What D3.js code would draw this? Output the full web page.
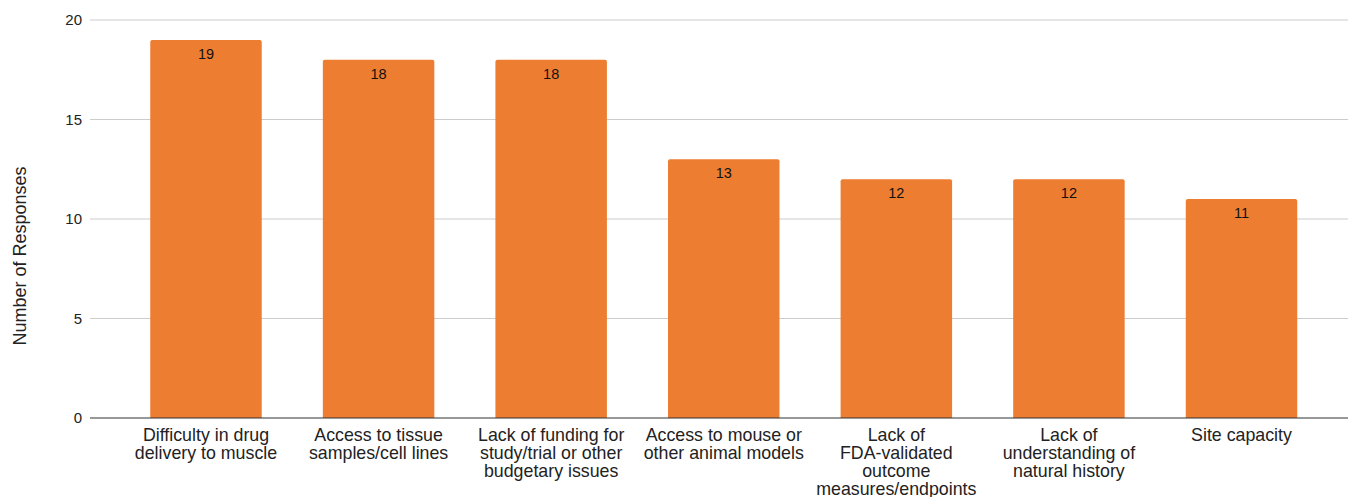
<!DOCTYPE html>
<html>
<head>
<meta charset="utf-8">
<script src="https://cdn.jsdelivr.net/npm/d3@7"></script>
<style>
  html, body { margin: 0; padding: 0; background: #fff; }
  svg { display: block; font-family: "Liberation Sans", Arial, sans-serif; }
</style>
</head>
<body>
<svg id="chart" width="1348" height="497"></svg>
<script>
// Reported barriers (line breaks mark where each axis label wraps)
const categories = [
  "Difficulty in drug\ndelivery to muscle",
  "Access to tissue\nsamples/cell lines",
  "Lack of funding for\nstudy/trial or other\nbudgetary issues",
  "Access to mouse or\nother animal models",
  "Lack of\nFDA-validated\noutcome\nmeasures/endpoints",
  "Lack of\nunderstanding of\nnatural history",
  "Site capacity"
];
const responses = [19, 18, 18, 13, 12, 12, 11];
const yTicks = [0, 5, 10, 15, 20];
const yTitle = "Number of Responses";

const svg = d3.select("#chart");
const gridLeft = 90, gridRight = 1348;
const plotTop = 20, plotBottom = 418;

const x = d3.scaleBand()
  .domain(categories)
  .range([119.7, 1327.8])
  .paddingInner(0.354)
  .paddingOuter(0.177);

const y = d3.scaleLinear().domain([0, 20]).range([plotBottom, plotTop]);

// Horizontal gridlines
svg.append("g")
  .selectAll("line")
  .data(yTicks.filter(d => d !== 0))
  .join("line")
  .attr("x1", gridLeft).attr("x2", gridRight)
  .attr("y1", d => y(d)).attr("y2", d => y(d))
  .attr("stroke", "#cccccc").attr("stroke-width", 1);

// Y tick labels
svg.append("g")
  .selectAll("text")
  .data(yTicks)
  .join("text")
  .attr("x", 82).attr("y", d => y(d))
  .attr("dy", "0.36em")
  .attr("text-anchor", "end")
  .attr("font-size", 15)
  .attr("fill", "#222")
  .text(d => d);

// Bars with slightly rounded top corners
const r = 2;
svg.append("g")
  .selectAll("path")
  .data(categories)
  .join("path")
  .attr("fill", "#ED7D31")
  .attr("d", (c, i) => {
    const x0 = x(c), w = x.bandwidth();
    const y0 = y(responses[i]), y1 = y(0);
    return `M${x0},${y1}V${y0 + r}Q${x0},${y0} ${x0 + r},${y0}H${x0 + w - r}Q${x0 + w},${y0} ${x0 + w},${y0 + r}V${y1}Z`;
  });

// Value labels inside the bar tops
svg.append("g")
  .selectAll("text")
  .data(categories)
  .join("text")
  .attr("x", c => x(c) + x.bandwidth() / 2)
  .attr("y", (c, i) => y(responses[i]) + 19)
  .attr("text-anchor", "middle")
  .attr("font-size", 14.5)
  .attr("fill", "#111")
  .text((c, i) => responses[i]);

// Baseline
svg.append("line")
  .attr("x1", gridLeft).attr("x2", gridRight)
  .attr("y1", y(0)).attr("y2", y(0))
  .attr("stroke", "#333").attr("stroke-width", 1.2);

// Category labels
const catG = svg.append("g")
  .selectAll("text")
  .data(categories)
  .join("text")
  .attr("text-anchor", "middle")
  .attr("font-size", 17.8)
  .attr("fill", "#222");
catG.each(function (c) {
  const t = d3.select(this);
  const cx = x(c) + x.bandwidth() / 2;
  c.split("\n").forEach((line, k) => {
    t.append("tspan")
      .attr("x", cx)
      .attr("y", plotBottom + 23 + k * 18)
      .text(line);
  });
});

// Y axis title
svg.append("text")
  .attr("transform", "translate(26,256) rotate(-90)")
  .attr("text-anchor", "middle")
  .attr("font-size", 18)
  .attr("fill", "#222")
  .text(yTitle);
</script>
</body>
</html>
